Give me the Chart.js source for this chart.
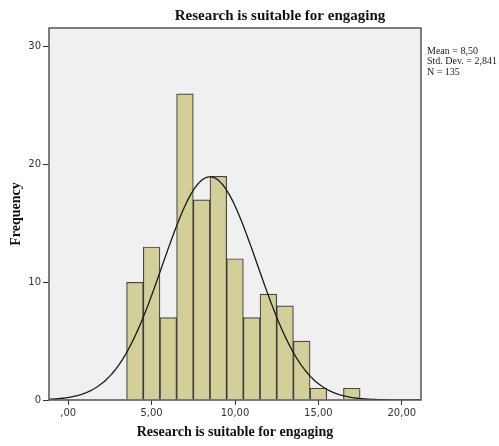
<!DOCTYPE html>
<html>
<head>
<meta charset="utf-8">
<script src="https://cdn.jsdelivr.net/npm/chart.js@4.4.1/dist/chart.umd.min.js"></script>
<style>
  html, body { margin: 0; padding: 0; background: #ffffff; }
  #wrap { width: 499px; height: 446px; position: relative; }
</style>
</head>
<body>
<div id="wrap"><canvas id="hist"></canvas></div>
<script>
// Histogram bins (bin centres, width 1) and their frequencies
const binCenters = [4, 5, 6, 7, 8, 9, 10, 11, 12, 13, 14, 15, 16, 17];
const frequencies = [10, 13, 7, 26, 17, 19, 12, 7, 9, 8, 5, 1, 0, 1];

// Summary statistics printed beside the plot
const statMean = 8.50;
const statSD = 2.841;
const statN = 135;
const binWidth = 1;

// Axis ticks and their labels
const xTickValues = [0, 5, 10, 15, 20];
const xTickLabels = [',00', '5,00', '10,00', '15,00', '20,00'];
const yTickValues = [0, 10, 20, 30];

const titleText = 'Research is suitable for engaging';
const xTitle = 'Research is suitable for engaging';
const yTitle = 'Frequency';
const statLines = ['Mean = 8,50', 'Std. Dev. = 2,841', 'N = 135'];

const xMin = -1.15, xMax = 21.15;
const yMin = 0, yMax = 31.6;

// Fitted normal curve scaled to counts: N * binWidth * pdf(x)
const curvePoints = [];
for (let i = 0; i <= 223; i++) {
  const x = xMin + i * 0.1;
  const z = (x - statMean) / statSD;
  const y = statN * binWidth / (statSD * Math.sqrt(2 * Math.PI)) * Math.exp(-0.5 * z * z);
  curvePoints.push({ x: x, y: y });
}

const barPoints = binCenters.map((c, i) => ({ x: c, y: frequencies[i] }));

const plotFrame = {
  id: 'plotFrame',
  beforeDraw(chart) {
    const { ctx, chartArea: a } = chart;
    ctx.save();
    ctx.fillStyle = '#f0f0f0';
    ctx.fillRect(a.left, a.top, a.right - a.left, a.bottom - a.top);
    ctx.restore();
  },
  afterDraw(chart) {
    const { ctx, chartArea: a } = chart;
    ctx.save();
    ctx.strokeStyle = '#555555';
    ctx.lineWidth = 1.5;
    ctx.strokeRect(a.left, a.top, a.right - a.left, a.bottom - a.top);

    // chart title
    ctx.fillStyle = '#111111';
    ctx.font = 'bold 15px "Liberation Serif", serif';
    ctx.textAlign = 'center';
    ctx.textBaseline = 'middle';
    ctx.fillText(titleText, 280, 16);

    // x-axis title
    ctx.font = 'bold 14px "Liberation Serif", serif';
    ctx.fillText(xTitle, (a.left + a.right) / 2, 432);

    // y-axis title
    ctx.save();
    ctx.translate(16, (a.top + a.bottom) / 2);
    ctx.rotate(-Math.PI / 2);
    ctx.fillText(yTitle, 0, 0);
    ctx.restore();

    // summary statistics
    ctx.font = '10px "Liberation Serif", serif';
    ctx.textAlign = 'left';
    ctx.fillStyle = '#222222';
    statLines.forEach((s, i) => ctx.fillText(s, a.right + 6, 51 + i * 10.5));
    ctx.restore();
  }
};

new Chart(document.getElementById('hist'), {
  data: {
    datasets: [
      {
        type: 'line',
        data: curvePoints,
        borderColor: '#1a1a1a',
        borderWidth: 1.3,
        pointRadius: 0,
        tension: 0,
        fill: false,
        order: 0
      },
      {
        type: 'bar',
        data: barPoints,
        backgroundColor: 'rgb(211,207,153)',
        borderColor: 'rgba(40,40,40,0.85)',
        borderWidth: 1.2,
        barPercentage: 1,
        categoryPercentage: 1,
        order: 1
      }
    ]
  },
  options: {
    responsive: true,
    maintainAspectRatio: false,
    animation: false,
    layout: { padding: { top: 28, right: 78, left: 0, bottom: 0 } },
    plugins: { legend: { display: false }, tooltip: { enabled: false }, title: { display: false } },
    scales: {
      x: {
        type: 'linear',
        min: xMin,
        max: xMax,
        offset: false,
        afterBuildTicks: (s) => { s.ticks = xTickValues.map(v => ({ value: v })); },
        afterFit: (s) => { s.height = 46; },
        ticks: {
          autoSkip: false,
          maxRotation: 0,
          padding: 2,
          color: '#333333',
          font: { family: '"DejaVu Sans", sans-serif', size: 10 },
          callback: (v) => xTickLabels[xTickValues.indexOf(v)]
        },
        grid: { offset: false, drawOnChartArea: false, drawTicks: true, tickLength: 5, color: '#333333', lineWidth: 1 },
        border: { display: false }
      },
      y: {
        type: 'linear',
        min: yMin,
        max: yMax,
        afterBuildTicks: (s) => { s.ticks = yTickValues.map(v => ({ value: v })); },
        afterFit: (s) => { s.width = 49; },
        ticks: {
          autoSkip: false,
          padding: 2,
          color: '#333333',
          font: { family: '"DejaVu Sans", sans-serif', size: 10 }
        },
        grid: { drawOnChartArea: false, drawTicks: true, tickLength: 6, color: '#333333', lineWidth: 1 },
        border: { display: false }
      }
    }
  },
  plugins: [plotFrame]
});
</script>
</body>
</html>
